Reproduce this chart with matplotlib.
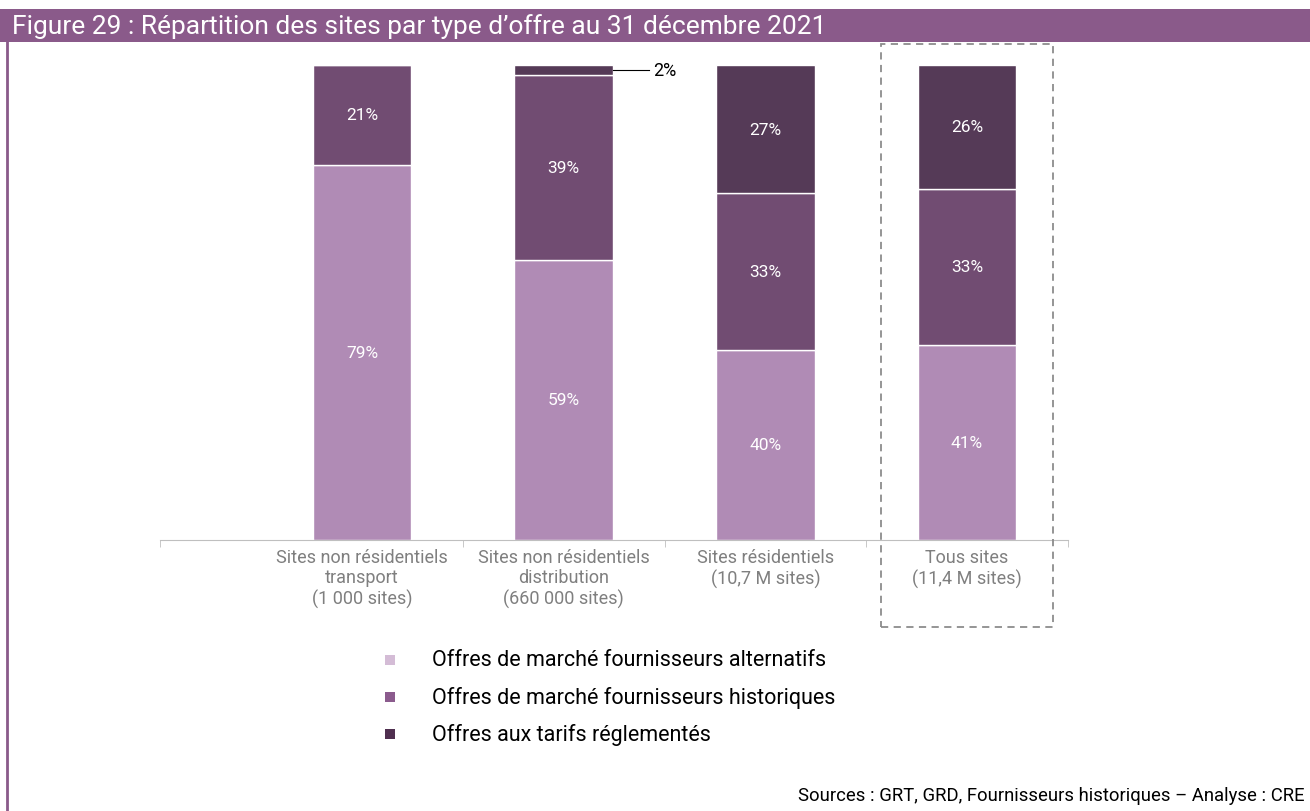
import matplotlib
matplotlib.use("Agg")
import matplotlib.pyplot as plt
from matplotlib.patches import Rectangle
from matplotlib.lines import Line2D

plt.rcParams['font.family'] = ['Roboto', 'DejaVu Sans']

# données
categories = ['Sites non résidentiels\ntransport\n(1 000 sites)',
              'Sites non résidentiels\ndistribution\n(660 000 sites)',
              'Sites résidentiels\n(10,7 M sites)',
              'Tous sites\n(11,4 M sites)']
alternatifs = [79, 59, 40, 41]
historiques = [21, 39, 33, 33]
reglementes = [0, 2, 27, 26]
series_noms = ['Offres de marché fournisseurs alternatifs',
               'Offres de marché fournisseurs historiques',
               'Offres aux tarifs réglementés']

couleurs_barres = ['#B08BB5', '#714C72', '#553A57']
couleurs_legende = ['#D4BCD6', '#8B5B8D', '#4F2F4F']
violet = '#8A5A8A'

fig = plt.figure(figsize=(13.1, 8.12), dpi=100)

# bandeau titre + bordure gauche
fig.patches.append(Rectangle((0, 1 - 43 / 812), 1, 33 / 812, transform=fig.transFigure,
                             facecolor=violet, edgecolor='none'))
fig.lines.append(Line2D([7 / 1310, 7 / 1310], [0, 1 - 43 / 812], transform=fig.transFigure,
                        color=violet, linewidth=2))
fig.text(12 / 1310, 1 - 27 / 812, 'Figure 29 : Répartition des sites par type d’offre au 31 décembre 2021',
         color='white', fontsize=19, va='center', ha='left')

ax = fig.add_axes([160.3 / 1310, 271 / 812, 907.6 / 1310, 475 / 812])
x = list(range(len(categories)))
largeur = 0.49

bas = [0] * len(x)
for valeurs, coul in zip([alternatifs, historiques, reglementes], couleurs_barres):
    ax.bar(x, [v / 100 for v in valeurs], largeur, bottom=bas, color=coul,
           edgecolor='white', linewidth=1)
    for i, v in enumerate(valeurs):
        if v >= 5:
            ax.text(x[i], bas[i] + v / 200, f'{v}%', ha='center', va='center',
                    color='white', fontsize=12.5)
    bas = [b + v / 100 for b, v in zip(bas, valeurs)]

# étiquette 2 %
i2 = 1
y2 = (alternatifs[i2] + historiques[i2] + reglementes[i2] / 2) / 100
ax.plot([x[i2] + largeur / 2, x[i2] + largeur / 2 + 0.18], [y2, y2], color='black', linewidth=0.8)
ax.text(x[i2] + largeur / 2 + 0.2, y2, f'{reglementes[i2]}%', ha='left', va='center',
        fontsize=13, color='black')

ax.set_xlim(-1, 3.5)
ax.set_ylim(0, 1)
for s in ['top', 'right', 'left']:
    ax.spines[s].set_visible(False)
ax.spines['bottom'].set_color('#BFBFBF')
ax.set_yticks([])
ax.set_xticks(x)
ax.set_xticklabels(categories, color='#7F7F7F', fontsize=13, linespacing=1.15)
ax.tick_params(axis='x', which='major', length=0, pad=6)
ax.set_xticks([-1, 0.5, 1.5, 2.5, 3.5], minor=True)
ax.tick_params(axis='x', which='minor', length=5, color='#BFBFBF')

# cadre pointillé autour de "Tous sites"
fig.patches.append(Rectangle((881 / 1310, 1 - 628 / 812), 172 / 1310, 583 / 812,
                             transform=fig.transFigure, fill=False, edgecolor='#8C8C8C',
                             linestyle=(0, (4, 3)), linewidth=1.3))

# légende
for k, (nom, coul) in enumerate(zip(series_noms, couleurs_legende)):
    yy = 1 - (661 + 37 * k) / 812
    fig.patches.append(Rectangle((385 / 1310, yy - 5 / 812), 10 / 1310, 10 / 812,
                                 transform=fig.transFigure, facecolor=coul, edgecolor='none'))
    fig.text(432 / 1310, yy, nom, fontsize=15.5, va='center', ha='left', color='black')

fig.text(1305 / 1310, 1 - 796 / 812, 'Sources : GRT, GRD, Fournisseurs historiques – Analyse : CRE',
         fontsize=13.3, ha='right', va='center', color='black')

fig.savefig('out.png', dpi=100)
